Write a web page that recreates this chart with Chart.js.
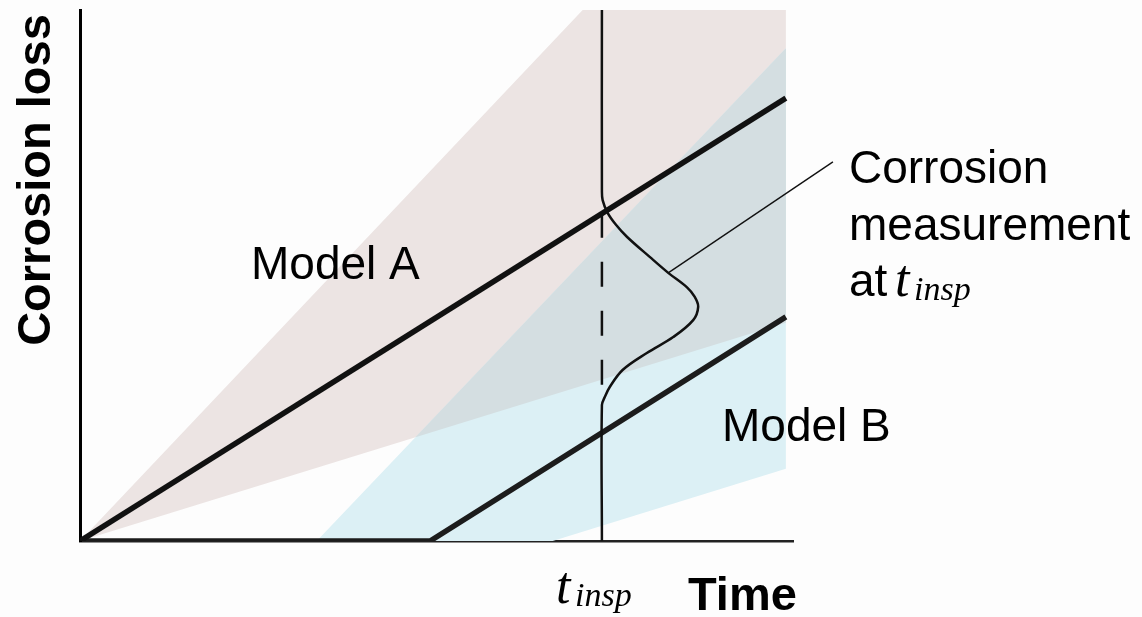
<!DOCTYPE html>
<html>
<head>
<meta charset="utf-8">
<script src="https://cdn.jsdelivr.net/npm/chart.js@4/dist/chart.umd.min.js"></script>
<style>
  html, body { margin: 0; padding: 0; background: #fdfdfd; }
  #wrap { width: 1142px; height: 617px; position: relative; }
</style>
</head>
<body>
<div id="wrap"><canvas id="c"></canvas></div>
<script>
// ---- data (time and corrosion loss in arbitrary units) ----
const axisTitles = ['Time', 'Corrosion loss'];
const modelLabels = ['Model A', 'Model B'];
const noteLines = ['Corrosion', 'measurement', 'at'];
const inspSymbol = ['t', 'insp'];

const timeRange = [0, 10];
const lossRange = [0, 10];

const tInsp = 7.32;

const modelA_t = [0, 9.9];
const modelA_loss = [0, 8.34];

const modelB_t = [0, 4.91, 9.9];
const modelB_loss = [0, 0, 4.22];

const bandA_t = [0, 7.05, 9.9, 9.9];
const bandA_loss = [0, 10, 10, 4.11];

const bandB_t = [3.32, 9.9, 9.9, 6.63];
const bandB_loss = [0, 9.28, 1.36, 0];

// measurement distribution drawn around t_insp (loss level, horizontal bulge)
const meas_loss = [10, 6.61, 6.42, 6.18, 5.95, 5.73, 5.35, 5.05, 4.78, 4.60, 4.41, 4.16, 3.84, 3.54, 3.22, 2.90, 2.71, 2.56, 0];
const meas_bulge = [0, 0, 0.01, 0.08, 0.20, 0.35, 0.67, 0.93, 1.19, 1.30, 1.35, 1.28, 1.00, 0.63, 0.29, 0.11, 0.04, 0, 0];

const dash_loss = [6.18, 2.56];

const leader_t = [8.25, 10.56];
const leader_loss = [5.05, 7.14];

// ---- helpers ----
const pts = (xs, ys) => xs.map((x, i) => ({x: x, y: ys[i]}));

function intersect(P, Q, A, B) {
  const d1x = Q.x - P.x, d1y = Q.y - P.y, d2x = B.x - A.x, d2y = B.y - A.y;
  const den = d1x * d2y - d1y * d2x;
  const t = ((A.x - P.x) * d2y - (A.y - P.y) * d2x) / den;
  return {x: P.x + t * d1x, y: P.y + t * d1y};
}
function clipPoly(subject, clip) {
  let area = 0;
  for (let i = 0; i < clip.length; i++) {
    const a = clip[i], b = clip[(i + 1) % clip.length];
    area += a.x * b.y - b.x * a.y;
  }
  const s = Math.sign(area);
  let out = subject;
  for (let i = 0; i < clip.length; i++) {
    const A = clip[i], B = clip[(i + 1) % clip.length];
    const inside = p => s * ((B.x - A.x) * (p.y - A.y) - (B.y - A.y) * (p.x - A.x)) >= -1e-9;
    const inp = out; out = [];
    for (let j = 0; j < inp.length; j++) {
      const P = inp[j], Q = inp[(j + 1) % inp.length];
      const pin = inside(P), qin = inside(Q);
      if (pin) out.push(P);
      if (pin !== qin) out.push(intersect(P, Q, A, B));
    }
  }
  return out;
}

const bandA = pts(bandA_t, bandA_loss);
const bandB = pts(bandB_t, bandB_loss);
const overlap = clipPoly(bandA, bandB);

const measPts = meas_loss.map((y, i) => ({x: tInsp + meas_bulge[i], y: y}));
const dashPts = dash_loss.map(y => ({x: tInsp, y: y}));

const PINK = '#ece4e3', BLUE = '#dcf0f5', GREY = '#d4dee1';

const textPlugin = {
  id: 'texts',
  afterDraw(chart) {
    const ctx = chart.ctx;
    ctx.save();
    ctx.fillStyle = '#000';
    ctx.textBaseline = 'alphabetic';
    ctx.textAlign = 'left';
    const sans = '"Liberation Sans", Arial, Helvetica, sans-serif';
    const serif = '"Liberation Serif", "Times New Roman", serif';

    // y axis title
    ctx.save();
    ctx.translate(50, 180);
    ctx.rotate(-Math.PI / 2);
    ctx.textAlign = 'center';
    ctx.font = 'bold 47px ' + sans;
    ctx.fillText(axisTitles[1], 0, 0);
    ctx.restore();

    // x axis title
    ctx.font = 'bold 47px ' + sans;
    ctx.fillText(axisTitles[0], 688, 610);

    // t_insp tick label
    ctx.font = 'italic 52px ' + serif;
    ctx.fillText(inspSymbol[0], 556, 603);
    ctx.font = 'italic 34px ' + serif;
    ctx.fillText(inspSymbol[1], 575, 606);

    // model labels
    ctx.font = '46px ' + sans;
    ctx.fillText(modelLabels[0], 251, 279);
    ctx.fillText(modelLabels[1], 722, 441);

    // annotation
    ctx.fillText(noteLines[0], 849, 183);
    ctx.fillText(noteLines[1], 849, 240);
    ctx.fillText(noteLines[2], 849, 296);
    ctx.font = 'italic 52px ' + serif;
    ctx.fillText(inspSymbol[0], 895, 296);
    ctx.font = 'italic 34px ' + serif;
    ctx.fillText(inspSymbol[1], 914, 300);
    ctx.restore();
  }
};

const lineDs = (data, color, width, order, extra) => Object.assign({
  data: data, showLine: true, borderColor: color, borderWidth: width,
  pointRadius: 0, pointHoverRadius: 0, fill: false, order: order,
  borderCapStyle: 'butt', borderJoinStyle: 'miter'
}, extra || {});

new Chart(document.getElementById('c'), {
  type: 'scatter',
  data: {
    datasets: [
      lineDs(bandA, 'rgba(0,0,0,0)', 0, 10, {fill: 'shape', backgroundColor: PINK}),
      lineDs(bandB, 'rgba(0,0,0,0)', 0, 9, {fill: 'shape', backgroundColor: BLUE}),
      lineDs(overlap, 'rgba(0,0,0,0)', 0, 8, {fill: 'shape', backgroundColor: GREY}),
      lineDs(pts(modelA_t, modelA_loss), '#111111', 5.5, 5),
      lineDs(pts(modelB_t, modelB_loss), '#1c1c1c', 5.5, 5),
      lineDs(dashPts, '#111111', 2.5, 4, {borderDash: [25, 24]}),
      lineDs(measPts, '#111111', 2.5, 3, {tension: 0.35}),
      lineDs(pts(leader_t, leader_loss), '#111111', 1.4, 3, {clip: false})
    ]
  },
  options: {
    responsive: true,
    maintainAspectRatio: false,
    animation: false,
    events: [],
    layout: { padding: { left: 80, top: 10, right: 349, bottom: 76 } },
    plugins: { legend: { display: false }, tooltip: { enabled: false }, title: { display: false } },
    scales: {
      x: {
        type: 'linear', min: timeRange[0], max: timeRange[1],
        ticks: { display: false },
        grid: { display: false, drawTicks: false },
        border: { display: true, color: '#222', width: 2.5 },
        title: { display: false }
      },
      y: {
        type: 'linear', min: lossRange[0], max: lossRange[1],
        ticks: { display: false },
        grid: { display: false, drawTicks: false },
        border: { display: true, color: '#000', width: 3 },
        title: { display: false }
      }
    }
  },
  plugins: [textPlugin]
});
</script>
</body>
</html>
